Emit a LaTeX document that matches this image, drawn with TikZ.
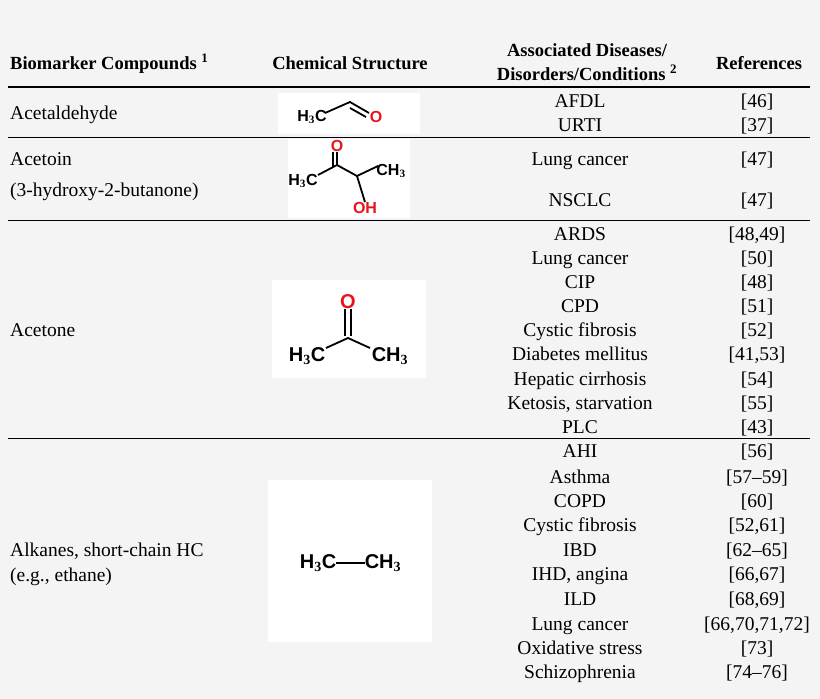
\documentclass[tikz,border=0pt]{standalone}
\usepackage{fontspec}
\setmainfont{Liberation Serif}
\newfontfamily\chemf{Liberation Sans}
\definecolor{bg}{HTML}{F4F4F4}
\definecolor{ored}{HTML}{E8141C}
\begin{document}
\begin{tikzpicture}[x=1pt,y=-1pt,
  t/.style={inner sep=0pt,anchor=base,font=\fontsize{19.5}{22}\selectfont},
  tl/.style={t,anchor=base west},
  h/.style={t,font=\fontsize{18.5}{22}\selectfont\bfseries},
  rule/.style={line width=0.9pt},
  box/.style={fill=white,draw=none},
  ch/.style={inner sep=0pt,font=\chemf\bfseries\fontsize{16}{18}\selectfont},
  chr/.style={ch,text=ored},
  chb/.style={inner sep=0pt,font=\chemf\bfseries\fontsize{20}{22}\selectfont},
  bd/.style={line width=1.8pt}]
\fill[bg] (0,0) rectangle (820,699);
\useasboundingbox (0,0) rectangle (820,699);
% header
\node[h,anchor=base west] (h1) at (10,69) {Biomarker Compounds \textsuperscript{1}};
\node[h] (h2) at (350,69) {Chemical Structure};
\node[h] (h3a) at (587,56) {Associated Diseases/};
\node[h] (h3b) at (587,80) {Disorders/Conditions \textsuperscript{2}};
\node[h] (h4) at (759,69) {References};
\draw[line width=1.4pt] (8,87) -- (810,87);
\draw[rule] (8,137) -- (810,137);
\draw[rule] (8,220) -- (810,220);
\draw[rule] (8,438) -- (810,438);
% boxes
\fill[box] (278,93) rectangle (420,134);
\fill[box] (288,139) rectangle (410,218);
\fill[box] (272,280) rectangle (426,378);
\fill[box] (268,480) rectangle (432,642);
% col1
\node[tl] (c1) at (10,119) {Acetaldehyde};
\node[tl] (c2a) at (10,165) {Acetoin};
\node[tl] (c2b) at (10,196) {(3-hydroxy-2-butanone)};
\node[tl] (c3) at (10,336) {Acetone};
\node[tl] (c4a) at (10,556) {Alkanes, short-chain HC};
\node[tl] (c4b) at (10,581) {(e.g., ethane)};
% diseases and refs
\foreach \y/\d/\r [count=\i] in {
 107/AFDL/{[46]}, 131/URTI/{[37]}, 165/Lung cancer/{[47]}, 206/NSCLC/{[47]},
 240/ARDS/{[48,49]}, 264/Lung cancer/{[50]}, 288/CIP/{[48]}, 312/CPD/{[51]},
 336/Cystic fibrosis/{[52]}, 360/Diabetes mellitus/{[41,53]}, 385/Hepatic cirrhosis/{[54]},
 409/{Ketosis, starvation}/{[55]}, 433/PLC/{[43]},
 457/AHI/{[56]}, 483/Asthma/{[57--59]}, 507/COPD/{[60]}, 531/Cystic fibrosis/{[52,61]},
 556/IBD/{[62--65]}, 580/{IHD, angina}/{[66,67]}, 605/ILD/{[68,69]},
 630/Lung cancer/{[66,70,71,72]}, 654/Oxidative stress/{[73]}, 678/Schizophrenia/{[74--76]}}
 { \node[t] (d\i) at (580,\y) {\d}; \node[t] (r\i) at (757,\y) {\r}; }
% acetaldehyde
\node[ch] (a1) at (312,117) {H$_\mathbf{3}$C};
\node[chr] (ao) at (376,117) {O};
\coordinate (ac) at (350,102);
\draw[bd] (325,113) -- (ac) -- (369,113);
\draw[bd] (350,108) -- (366,117);
% acetoin
\node[ch] (b1) at (303,181) {H$_\mathbf{3}$C};
\node[chr] (bo) at (337,146) {O};
\node[ch] (b3) at (391,171) {CH$_\mathbf{3}$};
\node[chr] (boh) at (365,208) {OH};
\coordinate (bc) at (337,165);
\coordinate (bd) at (357,176);
\draw[bd] (318,175) -- (bc) -- (bd) -- (378,166);
\draw[bd] (bd) -- (boh.north);
\draw[bd] (bo.south) -- (bc);
\draw[bd] ([xshift=-4pt]bo.south) -- ++(0,15);
% acetone
\node[chb] (e1) at (307,356) {H$_\mathbf{3}$C};
\node[chr,font=\chemf\bfseries\fontsize{20}{22}\selectfont] (eo) at (348,302) {O};
\node[chb] (e3) at (390,356) {CH$_\mathbf{3}$};
\coordinate (ec) at (348,338);
\draw[bd] (326,348) -- (ec) -- (370,348);
\draw[bd] (eo.south) ++(-3,0) -- ++(0,27);
\draw[bd] (eo.south) ++(3,0) -- ++(0,27);
% ethane
\node[chb] (et1) at (318,563) {H$_\mathbf{3}$C};
\node[chb] (et2) at (383,563) {CH$_\mathbf{3}$};
\draw[bd] (et1.east) -- (et2.west);
\end{tikzpicture}
\end{document}
